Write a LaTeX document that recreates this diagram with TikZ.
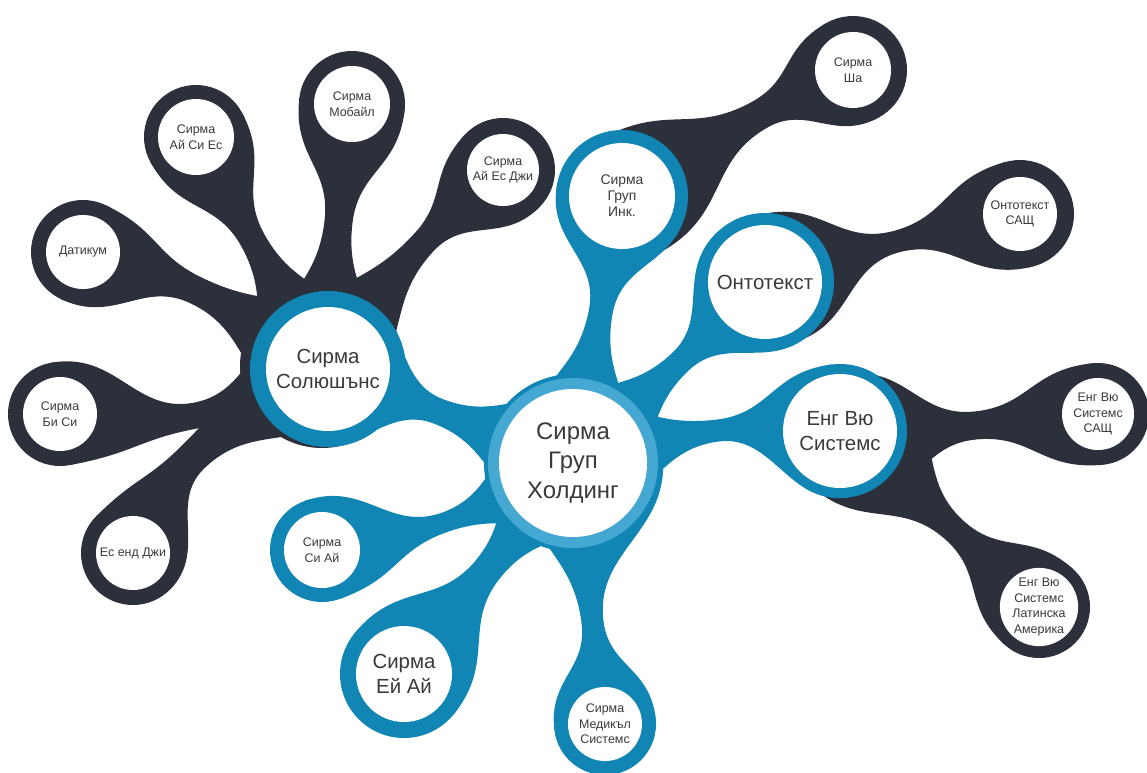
\documentclass[tikz,border=0pt]{standalone}
\usepackage{fontspec}
\setmainfont{Liberation Sans}
\definecolor{dk}{HTML}{2B303B}
\definecolor{bl}{HTML}{1186B5}
\definecolor{lb}{HTML}{45A8D2}
\definecolor{tx}{HTML}{3A3A3A}
\newdimen\stAx \newdimen\stAy \newdimen\stBx \newdimen\stBy
% #1 colour, #2 from, #3 to, #4 start half-width (left), #5 start half-width (right),
% #6 end half-width, #7 pinch half-width, #8 pinch position, #9 bend
\newcommand\stalk[9]{%
  \pgfextractx{\stAx}{\pgfpointanchor{#2}{center}}%
  \pgfextracty{\stAy}{\pgfpointanchor{#2}{center}}%
  \pgfextractx{\stBx}{\pgfpointanchor{#3}{center}}%
  \pgfextracty{\stBy}{\pgfpointanchor{#3}{center}}%
  \pgfmathsetmacro\stAng{atan2(\stBy-\stAy,\stBx-\stAx)}%
  \pgfmathsetmacro\stL{veclen(\stBx-\stAx,\stBy-\stAy)/1.00375}%
  \pgfmathsetmacro\stM{#8*\stL}%
  \pgfmathsetmacro\stR{\stL-\stM}%
  \pgfmathsetmacro\kA{0.5*\stM}%
  \pgfmathsetmacro\hA{0.45*\stM}%
  \pgfmathsetmacro\hB{0.45*\stR}%
  \pgfmathsetmacro\kB{0.5*\stR}%
  \pgfmathsetmacro\stUp{#9+#7}%
  \pgfmathsetmacro\stDn{#9-#7}%
  \begin{scope}[shift={(\the\stAx,\the\stAy)},rotate=\stAng,x=1bp,y=1bp]
    \fill[#1] (0,#4) .. controls (\kA,#4) and (\stM-\hA,\stUp) .. (\stM,\stUp)
      .. controls (\stM+\hB,\stUp) and (\stL-\kB,#6) .. (\stL,#6) -- (\stL,-#6)
      .. controls (\stL-\kB,-#6) and (\stM+\hB,\stDn) .. (\stM,\stDn)
      .. controls (\stM-\hA,\stDn) and (\kA,-#5) .. (0,-#5) -- cycle;
  \end{scope}}
\begin{document}
\begin{tikzpicture}[x=1bp,y=-1bp,
  lbl/.style={circle, fill=white, inner sep=0pt, align=center, text=tx},
  fhub/.style={font=\fontsize{24}{30}\selectfont},
  fbig/.style={font=\fontsize{20.5}{25}\selectfont},
  fmid/.style={font=\fontsize{14}{16}\selectfont},
  fsm/.style={font=\fontsize{12.5}{15.5}\selectfont}]
\useasboundingbox (0,0) rectangle (1147,773);
\clip (0,0) rectangle (1147,773);
\fill[white] (0,0) rectangle (1147,773);
% centres
\coordinate (H) at (573,463);
\coordinate (S) at (328,369);
\coordinate (G) at (622,196);
\coordinate (O) at (765,282);
\coordinate (E) at (840,431);
\coordinate (C) at (322,550);
\coordinate (Y) at (404,674);
\coordinate (D) at (605,724);
\coordinate (Gd) at (630,196);
\coordinate (Od) at (775,279);
\coordinate (Ed) at (852,437);
\coordinate (Sd) at (322,366);
\coordinate (Sha) at (853,70);
\coordinate (OS) at (1020,214);
\coordinate (ES) at (1098,414);
\coordinate (EL) at (1039,607);
\coordinate (AiSi) at (196,137);
\coordinate (Mob) at (352,104);
\coordinate (AiEs) at (503,170);
\coordinate (Dat) at (83,252);
\coordinate (BiSi) at (60,414);
\coordinate (EsG) at (133,553);
% dark branches
\fill[dk] (Sd) circle[radius=82];
\stalk{dk}{Sd}{AiSi}{50}{50}{52}{13}{0.55}{0}
\stalk{dk}{Sd}{Mob}{50}{50}{53}{14}{0.55}{0}
\stalk{dk}{Sd}{AiEs}{50}{50}{52}{13}{0.6}{9}
\stalk{dk}{Sd}{Dat}{50}{50}{52}{14}{0.55}{-14}
\stalk{dk}{Sd}{BiSi}{50}{50}{52}{13}{0.5}{26}
\stalk{dk}{Sd}{EsG}{50}{50}{52}{16}{0.59}{-26}
\stalk{dk}{Gd}{Sha}{64}{64}{54}{15}{0.6}{7}
\stalk{dk}{Od}{OS}{66}{66}{54}{11}{0.5}{5}
\stalk{dk}{Ed}{ES}{64}{64}{51}{14}{0.5}{0}
\stalk{dk}{Ed}{EL}{64}{64}{51}{13}{0.55}{0}
\foreach \p/\r in {Sha/54,OS/54,ES/51,EL/51,AiSi/52,Mob/53,AiEs/52,Dat/52,BiSi/52,EsG/52}
  \fill[dk] (\p) circle[radius=\r];
% blue branches
\stalk{bl}{H}{S}{60}{60}{78}{13}{0.55}{0}
\stalk{bl}{H}{G}{55}{55}{66}{12}{0.57}{0}
\stalk{bl}{H}{O}{55}{55}{69}{12}{0.56}{0}
\stalk{bl}{H}{E}{55}{55}{67}{11}{0.55}{15}
\stalk{bl}{H}{C}{55}{55}{52}{10}{0.53}{14}
\stalk{bl}{H}{Y}{55}{55}{64}{15}{0.5}{0}
\stalk{bl}{H}{D}{90}{55}{51}{11}{0.61}{0}
\foreach \p/\r in {S/78,G/66,O/69,E/67,C/52,Y/64,D/51,H/89}
  \fill[bl] (\p) circle[radius=\r];
\fill[lb] (H) circle[radius=85];
% labels
\node[lbl, fhub, minimum size=148bp] (Ht) at (H) {Сирма\\Груп\\Холдинг};
\node[lbl, fbig, minimum size=124bp] (St) at (S) {Сирма\\Солюшънс};
\node[lbl, fmid, minimum size=106bp] (Gt) at (G) {Сирма\\Груп\\Инк.};
\node[lbl, fbig, minimum size=114bp] (Ot) at (O) {Онтотекст};
\node[lbl, fbig, minimum size=114bp] (Et) at (E) {Енг Вю\\Системс};
\node[lbl, fsm, minimum size=76bp] (Ct) at (C) {Сирма\\Си Ай};
\node[lbl, fbig, minimum size=96bp] (Yt) at (Y) {Сирма\\Ей Ай};
\node[lbl, fsm, minimum size=74bp] (Dt) at (D) {Сирма\\Медикъл\\Системс};
\node[lbl, fsm, minimum size=76bp] (Shat) at (Sha) {Сирма\\Ша};
\node[lbl, fsm, minimum size=74bp] (OSt) at (OS) {Онтотекст\\САЩ};
\node[lbl, fsm, minimum size=72bp] (ESt) at (ES) {Енг Вю\\Системс\\САЩ};
\node[lbl, fsm, minimum size=70bp] (ELt) at (EL) {Енг Вю\\Системс\\Латинска\\Америка};
\node[lbl, fsm, minimum size=76bp] (AiSit) at (AiSi) {Сирма\\Ай Си Ес};
\node[lbl, fsm, minimum size=76bp] (Mobt) at (Mob) {Сирма\\Мобайл};
\node[lbl, fsm, minimum size=72bp] (AiEst) at (AiEs) {Сирма\\Ай Ес Джи};
\node[lbl, fsm, minimum size=74bp] (Datt) at (Dat) {Датикум};
\node[lbl, fsm, minimum size=74bp] (BiSit) at (BiSi) {Сирма\\Би Си};
\node[lbl, fsm, minimum size=74bp] (EsGt) at (EsG) {Ес енд Джи};
\end{tikzpicture}
\end{document}
